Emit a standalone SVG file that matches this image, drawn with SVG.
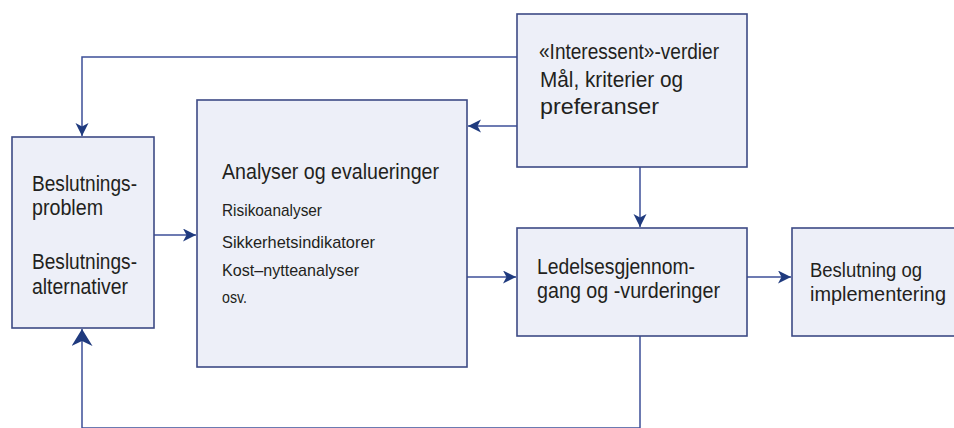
<svg xmlns="http://www.w3.org/2000/svg" width="954" height="428" viewBox="0 0 954 428">
  <style>
    .box { fill: #edeff8; stroke: #3d4a85; stroke-width: 1.6; }
    .t { font-family: "Liberation Sans", Arial, sans-serif; fill: #231f20; }
    .big { font-size: 22px; }
    .mid { font-size: 20px; }
    .small { font-size: 17px; }
    .conn { fill: none; stroke: #3c4f98; stroke-width: 1.5; }
  </style>
  <defs>
    <marker id="arr" markerUnits="userSpaceOnUse" markerWidth="16" markerHeight="16" refX="13" refY="6.5" orient="auto">
      <path d="M0,0 L13,6.5 L0,13 L3.5,6.5 z" fill="#1f3a7e"/>
    </marker>
    <marker id="arrBig" markerUnits="userSpaceOnUse" markerWidth="22" markerHeight="24" refX="17" refY="10.5" orient="auto">
      <path d="M0,0 L17,10.5 L0,21 L5,10.5 z" fill="#1f3a7e"/>
    </marker>
  </defs>
  <rect width="954" height="428" fill="#ffffff"/>

  <g id="connectors">
    <path class="conn" d="M517,57 H82 V136" marker-end="url(#arr)"/>
    <path class="conn" d="M517,126 H468" marker-end="url(#arr)"/>
    <path class="conn" d="M154,235 H196" marker-end="url(#arr)"/>
    <path class="conn" d="M467,277 H516" marker-end="url(#arr)"/>
    <path class="conn" d="M640,167 V227" marker-end="url(#arr)"/>
    <path class="conn" d="M747,277 H791" marker-end="url(#arr)"/>
    <path class="conn" d="M640,336 V428 H82 V329" marker-end="url(#arrBig)"/>
  </g>

  <g id="node-beslutningsproblem">
    <rect class="box" x="12" y="137" width="142" height="191"/>
    <text class="t big" x="32" y="191" textLength="105" lengthAdjust="spacingAndGlyphs">Beslutnings-</text>
    <text class="t big" x="32" y="215" textLength="71" lengthAdjust="spacingAndGlyphs">problem</text>
    <text class="t big" x="32" y="269" textLength="105" lengthAdjust="spacingAndGlyphs">Beslutnings-</text>
    <text class="t big" x="32" y="294" textLength="96" lengthAdjust="spacingAndGlyphs">alternativer</text>
  </g>

  <g id="node-analyser">
    <rect class="box" x="197" y="100" width="270" height="267"/>
    <text class="t big" x="222" y="179" textLength="217" lengthAdjust="spacingAndGlyphs">Analyser og evalueringer</text>
    <text class="t small" x="222" y="216" textLength="100" lengthAdjust="spacingAndGlyphs">Risikoanalyser</text>
    <text class="t small" x="222" y="248" textLength="153" lengthAdjust="spacingAndGlyphs">Sikkerhetsindikatorer</text>
    <text class="t small" x="222" y="276" textLength="137" lengthAdjust="spacingAndGlyphs">Kost–nytteanalyser</text>
    <text class="t small" x="222" y="303" textLength="25" lengthAdjust="spacingAndGlyphs">osv.</text>
  </g>

  <g id="node-interessent">
    <rect class="box" x="517" y="14" width="230" height="153"/>
    <text class="t big" x="539" y="59" textLength="180" lengthAdjust="spacingAndGlyphs">«Interessent»-verdier</text>
    <text class="t big" x="540" y="87" textLength="143" lengthAdjust="spacingAndGlyphs">Mål, kriterier og</text>
    <text class="t big" x="540" y="114" textLength="119" lengthAdjust="spacingAndGlyphs">preferanser</text>
  </g>

  <g id="node-ledelse">
    <rect class="box" x="517" y="228" width="230" height="108"/>
    <text class="t big" x="537" y="274" textLength="158" lengthAdjust="spacingAndGlyphs">Ledelsesgjennom-</text>
    <text class="t big" x="537" y="298" textLength="183" lengthAdjust="spacingAndGlyphs">gang og -vurderinger</text>
  </g>

  <g id="node-beslutning">
    <rect class="box" x="792" y="228" width="175" height="108"/>
    <text class="t mid" x="810" y="277" textLength="112" lengthAdjust="spacingAndGlyphs">Beslutning og</text>
    <text class="t mid" x="810" y="301" textLength="136" lengthAdjust="spacingAndGlyphs">implementering</text>
  </g>
</svg>
